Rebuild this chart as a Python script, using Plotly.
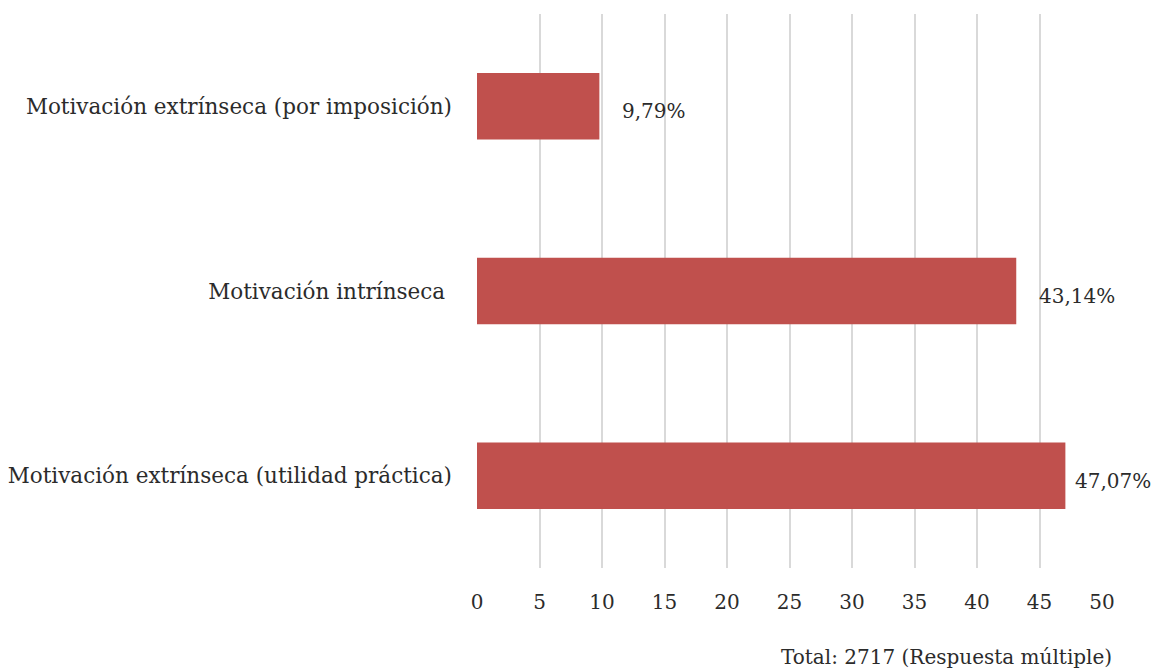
import plotly.graph_objects as go

# Motivation types (bottom to top) and their share of responses (%)
categories = [
    "Motivación extrínseca (utilidad práctica)",
    "Motivación intrínseca ",
    "Motivación extrínseca (por imposición)",
]
values = [47.07, 43.14, 9.79]
value_labels = ["47,07%", "43,14%", "9,79%"]
tick_values = [0, 5, 10, 15, 20, 25, 30, 35, 40, 45, 50]
tick_labels = ["0", "5", "10", "15", "20", "25", "30", "35", "40", "45", "50"]
footnote = "Total: 2717 (Respuesta múltiple)"

FONT = "DejaVu Serif"
SIZE = 20
CAT_SIZE = 21.5
TEXT_COLOR = "#2b2b2b"
BAR_COLOR = "#C0504D"

fig = go.Figure(
    go.Bar(
        x=values,
        y=categories,
        orientation="h",
        marker=dict(color=BAR_COLOR, line=dict(width=0)),
        hoverinfo="skip",
    )
)

# value labels beside each bar (the longest one sits closer to its bar)
label_shifts = [8, 21, 21]
for v, c, t, s in zip(values, categories, value_labels, label_shifts):
    fig.add_annotation(
        x=v, y=c, text=t, xref="x", yref="y",
        xanchor="left", yanchor="middle", xshift=s, yshift=-5,
        showarrow=False, font=dict(family=FONT, size=SIZE, color=TEXT_COLOR),
    )

fig.add_annotation(
    x=1, y=0, xref="paper", yref="paper", xanchor="right", yanchor="middle",
    xshift=12, yshift=-89, text=footnote, showarrow=False,
    font=dict(family=FONT, size=SIZE, color=TEXT_COLOR),
)

fig.update_layout(
    width=1155,
    height=670,
    margin=dict(l=477, r=53, t=14, b=102, autoexpand=False),
    paper_bgcolor="white",
    plot_bgcolor="white",
    bargap=0.64,
    showlegend=False,
    font=dict(family=FONT, size=SIZE, color=TEXT_COLOR),
    xaxis=dict(
        range=[0, 50],
        tickmode="array",
        tickvals=tick_values,
        ticktext=tick_labels,
        showgrid=True,
        gridcolor="#D9D9D9",
        gridwidth=1.5,
        zeroline=False,
        showline=False,
        ticks="",
        ticklabelstandoff=20,
        automargin=False,
        tickfont=dict(family=FONT, size=SIZE, color=TEXT_COLOR),
    ),
    yaxis=dict(
        showgrid=False,
        zeroline=False,
        showline=False,
        ticks="",
        ticklabelstandoff=24,
        automargin=False,
        tickfont=dict(family=FONT, size=CAT_SIZE, color=TEXT_COLOR),
    ),
)

fig.write_html("out.html")
